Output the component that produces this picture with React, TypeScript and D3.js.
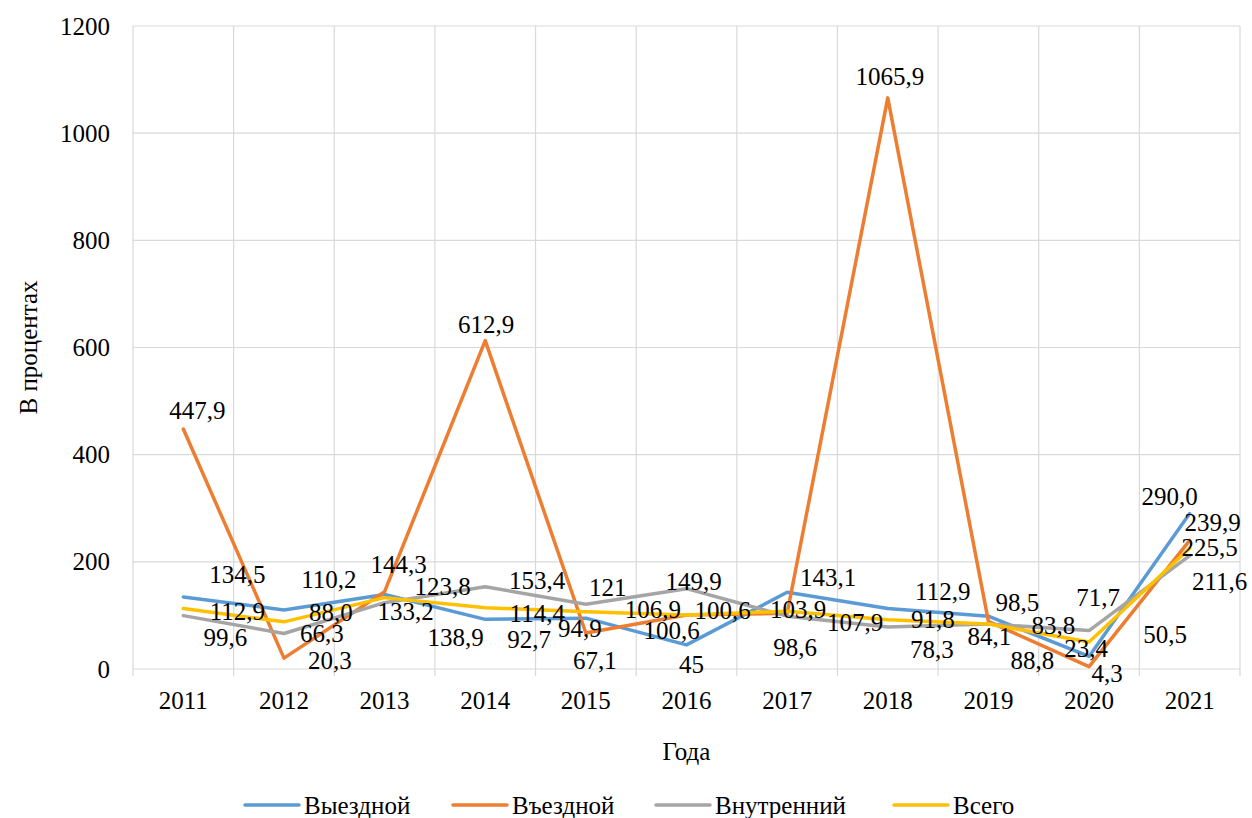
import React from "react";
import * as d3 from "d3";

// values as printed on the chart (comma decimal), parsed for the scales
const years = ["2011", "2012", "2013", "2014", "2015", "2016", "2017", "2018", "2019", "2020", "2021"];
const outbound = ["134,5", "110,2", "138,9", "92,7", "94,9", "45", "143,1", "112,9", "98,5", "23,4", "290,0"];
const inbound = ["447,9", "20,3", "144,3", "612,9", "67,1", "100,6", "103,9", "1065,9", "88,8", "4,3", "239,9"];
const domestic = ["99,6", "66,3", "123,8", "153,4", "121", "149,9", "98,6", "78,3", "83,8", "71,7", "211,6"];
const total = ["112,9", "88,0", "133,2", "114,4", "106,9", "100,6", "107,9", "91,8", "84,1", "50,5", "225,5"];
const yTicks = [0, 200, 400, 600, 800, 1000, 1200];

// manual label placement (px from the point), like the hand-moved labels in the original
const shiftOut = [[54, -22], [45, -30], [71, 43], [44, 20], [-6, 10], [5, 20], [41, -15], [55, -17], [29, -14], [-3, -8], [-20, -17]];
const shiftIn = [[14, -19], [46, 2], [14, -27], [1, -16], [9, 27], [-15, 15], [11, -4], [2, -21], [44, 39], [18, 7], [23, -18]];
const shiftDom = [[42, 22], [38, 0], [58, -16], [52, -6], [22, -17], [7, -7], [8, 31], [44, 22], [65, 1], [9, -33], [30, 26]];
const shiftTot = [[54, 3], [47, -9], [21, 14], [52, 6], [67, -2], [36, -5], [68, 11], [45, 0], [1, 13], [76, -7], [20, -1]];

const series = [
  { name: "Выездной", color: "#5B9BD5", vals: outbound, shift: shiftOut, lx: 245 },
  { name: "Въездной", color: "#ED7D31", vals: inbound, shift: shiftIn, lx: 453 },
  { name: "Внутренний", color: "#A5A5A5", vals: domestic, shift: shiftDom, lx: 656 },
  { name: "Всего", color: "#FFC000", vals: total, shift: shiftTot, lx: 894 },
];

const num = (s: string) => +s.replace(",", ".");
const FONT = "Liberation Serif, Times New Roman, DejaVu Serif, serif";

export default function App() {
  const W = 1252, H = 818;
  const left = 133, right = 1240, top = 26, bottom = 669;

  const x = d3.scaleBand().domain(years).range([left, right]);
  const y = d3.scaleLinear().domain([0, 1200]).range([bottom, top]);
  const cx = (yr: string) => (x(yr) as number) + x.bandwidth() / 2;

  const line = d3.line<string>()
    .x((_, i) => cx(years[i]))
    .y(d => y(num(d)));

  const bounds = years.map(yr => x(yr) as number).concat([right]);

  return (
    <svg width={W} height={H} style={{ position: "absolute", left: 0, top: 0, background: "#fff", fontFamily: FONT }}>
      {/* grid */}
      {yTicks.map(t => (
        <line key={"h" + t} x1={left} x2={right} y1={y(t)} y2={y(t)} stroke="#D9D9D9" strokeWidth={1.2} />
      ))}
      {bounds.map((bx, i) => (
        <line key={"v" + i} x1={bx} x2={bx} y1={top} y2={bottom + 7} stroke="#D9D9D9" strokeWidth={1.2} />
      ))}

      {/* y ticks */}
      {yTicks.map(t => (
        <text key={"yt" + t} x={110} y={y(t)} textAnchor="end" dominantBaseline="central" fontSize={25} fill="#000">{t}</text>
      ))}
      {/* x ticks */}
      {years.map(yr => (
        <text key={"xt" + yr} x={cx(yr)} y={700} textAnchor="middle" dominantBaseline="central" fontSize={25} fill="#000">{yr}</text>
      ))}

      {/* axis titles */}
      <text transform={`translate(28,${(top + bottom) / 2}) rotate(-90)`} textAnchor="middle" dominantBaseline="central" fontSize={25}>В процентах</text>
      <text x={(left + right) / 2} y={751} textAnchor="middle" dominantBaseline="central" fontSize={25}>Года</text>

      {/* lines */}
      {series.map(s => (
        <path key={s.name} d={line(s.vals) || ""} fill="none" stroke={s.color} strokeWidth={3.5} strokeLinejoin="round" strokeLinecap="round" />
      ))}

      {/* data labels */}
      {series.map(s =>
        s.vals.map((v, i) => (
          <text key={s.name + i} x={cx(years[i]) + s.shift[i][0]} y={y(num(v)) + s.shift[i][1]}
            textAnchor="middle" dominantBaseline="central" fontSize={25} fill="#000">{v}</text>
        ))
      )}

      {/* legend */}
      {series.map(s => (
        <g key={"lg" + s.name}>
          <line x1={s.lx} x2={s.lx + 54} y1={805} y2={805} stroke={s.color} strokeWidth={3.5} strokeLinecap="round" />
          <text x={s.lx + 59} y={805} dominantBaseline="central" fontSize={25}>{s.name}</text>
        </g>
      ))}
    </svg>
  );
}
